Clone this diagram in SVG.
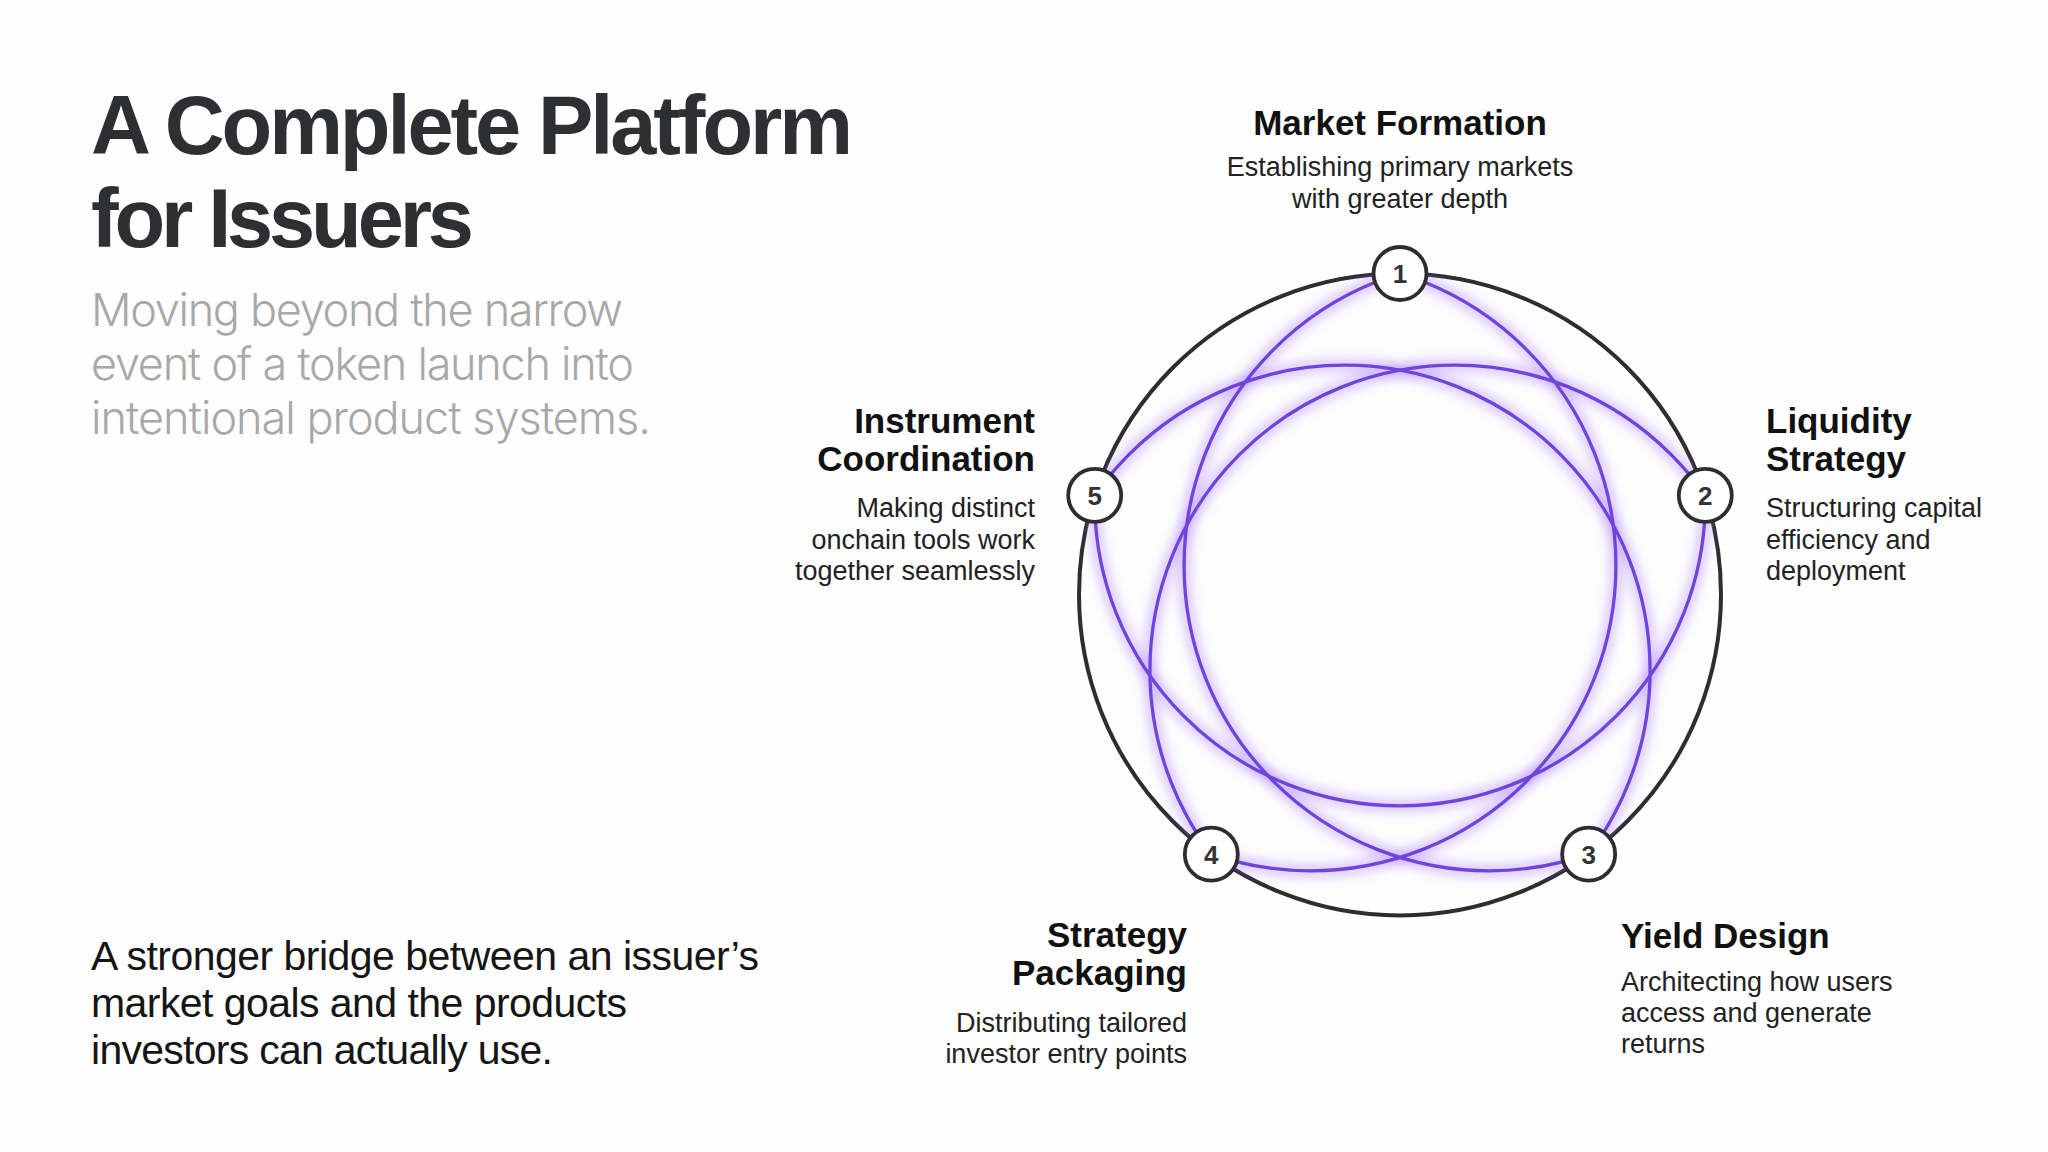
<svg xmlns="http://www.w3.org/2000/svg" width="2048" height="1152" viewBox="0 0 2048 1152">
  <defs>
    <style>
      .title { font-family: "Liberation Sans", Arial, sans-serif; font-weight: 700; font-size: 83px; fill: #2d2f33; }
      .sub { font-family: "Inter", "Liberation Sans", sans-serif; font-weight: 300; font-size: 45px; fill: #a8a8a8; }
      .body { font-family: "Liberation Sans", Arial, sans-serif; font-weight: 400; font-size: 41px; fill: #151515; }
      .head { font-family: "Liberation Sans", Arial, sans-serif; font-weight: 700; font-size: 35px; fill: #111111; }
      .desc { font-family: "Liberation Sans", Arial, sans-serif; font-weight: 400; font-size: 27px; fill: #222222; }
      .num { font-family: "Liberation Sans", Arial, sans-serif; font-weight: 700; font-size: 26px; fill: #333333; text-anchor: middle; }
      .node { fill: #ffffff; stroke: #2e2e31; stroke-width: 3.8; }
      .ring { fill: none; stroke: #2e2e31; stroke-width: 4; }
      .arc { fill: none; stroke: #6f43dc; stroke-width: 3.3; }
      .glow { fill: none; stroke: #9a6cff; stroke-width: 12; opacity: 0.4; }
    </style>
    <clipPath id="inside">
      <circle cx="1400" cy="594.5" r="321"/>
    </clipPath>
    <filter id="blur" x="-20%" y="-20%" width="140%" height="140%">
      <feGaussianBlur stdDeviation="6"/>
    </filter>
  </defs>

  <rect width="2048" height="1152" fill="#fefefe"/>

  <g id="title">
    <text class="title" x="91" y="154" textLength="762" lengthAdjust="spacing">A Complete Platform</text>
    <text class="title" x="91" y="246.5" textLength="383" lengthAdjust="spacing">for Issuers</text>
  </g>

  <g id="subtitle">
    <text class="sub" x="91" y="326" textLength="532" lengthAdjust="spacing">Moving beyond the narrow</text>
    <text class="sub" x="91" y="380" textLength="543" lengthAdjust="spacing">event of a token launch into</text>
    <text class="sub" x="91" y="434" textLength="560" lengthAdjust="spacing">intentional product systems.</text>
  </g>

  <g id="summary">
    <text class="body" x="91" y="970" textLength="668" lengthAdjust="spacing">A stronger bridge between an issuer’s</text>
    <text class="body" x="91" y="1017" textLength="536" lengthAdjust="spacing">market goals and the products</text>
    <text class="body" x="91" y="1064" textLength="462" lengthAdjust="spacing">investors can actually use.</text>
  </g>

  <circle id="outer-ring" class="ring" cx="1400" cy="594.5" r="321"/>

  <g id="connectors" clip-path="url(#inside)">
    <g filter="url(#blur)">
      <circle class="glow" cx="1400" cy="500.5" r="305.33"/>
      <circle class="glow" cx="1489.4" cy="565.45" r="305.33"/>
      <circle class="glow" cx="1455.25" cy="670.55" r="305.33"/>
      <circle class="glow" cx="1344.75" cy="670.55" r="305.33"/>
      <circle class="glow" cx="1310.6" cy="565.45" r="305.33"/>
    </g>
    <circle class="arc" cx="1400" cy="500.5" r="305.33"/>
    <circle class="arc" cx="1489.4" cy="565.45" r="305.33"/>
    <circle class="arc" cx="1455.25" cy="670.55" r="305.33"/>
    <circle class="arc" cx="1344.75" cy="670.55" r="305.33"/>
    <circle class="arc" cx="1310.6" cy="565.45" r="305.33"/>
  </g>

  <g id="node-1">
    <circle class="node" cx="1400" cy="273.5" r="26.5"/>
    <text class="num" x="1400" y="282.8">1</text>
    <text class="head" x="1400" y="134.5" text-anchor="middle">Market Formation</text>
    <text class="desc" x="1400" y="176" text-anchor="middle">Establishing primary markets</text>
    <text class="desc" x="1400" y="208" text-anchor="middle">with greater depth</text>
  </g>

  <g id="node-2">
    <circle class="node" cx="1705.29" cy="495.31" r="26.5"/>
    <text class="num" x="1705.29" y="504.6">2</text>
    <text class="head" x="1766" y="433">Liquidity</text>
    <text class="head" x="1766" y="471">Strategy</text>
    <text class="desc" x="1766" y="517">Structuring capital</text>
    <text class="desc" x="1766" y="548.5">efficiency and</text>
    <text class="desc" x="1766" y="580">deployment</text>
  </g>

  <g id="node-3">
    <circle class="node" cx="1588.68" cy="854.19" r="26.5"/>
    <text class="num" x="1588.68" y="863.5">3</text>
    <text class="head" x="1621" y="948">Yield Design</text>
    <text class="desc" x="1621" y="990.5">Architecting how users</text>
    <text class="desc" x="1621" y="1021.7">access and generate</text>
    <text class="desc" x="1621" y="1053">returns</text>
  </g>

  <g id="node-4">
    <circle class="node" cx="1211.32" cy="854.19" r="26.5"/>
    <text class="num" x="1211.32" y="863.5">4</text>
    <text class="head" x="1187" y="947" text-anchor="end">Strategy</text>
    <text class="head" x="1187" y="985" text-anchor="end">Packaging</text>
    <text class="desc" x="1187" y="1031.5" text-anchor="end">Distributing tailored</text>
    <text class="desc" x="1187" y="1063" text-anchor="end">investor entry points</text>
  </g>

  <g id="node-5">
    <circle class="node" cx="1094.71" cy="495.31" r="26.5"/>
    <text class="num" x="1094.71" y="504.6">5</text>
    <text class="head" x="1035" y="433" text-anchor="end">Instrument</text>
    <text class="head" x="1035" y="471" text-anchor="end">Coordination</text>
    <text class="desc" x="1035" y="517" text-anchor="end">Making distinct</text>
    <text class="desc" x="1035" y="548.5" text-anchor="end">onchain tools work</text>
    <text class="desc" x="1035" y="580" text-anchor="end">together seamlessly</text>
  </g>
</svg>
